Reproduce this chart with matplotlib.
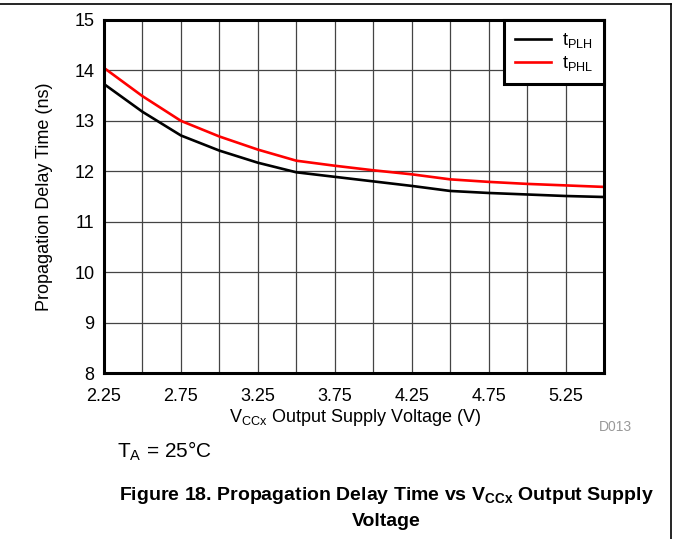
import matplotlib
matplotlib.use("Agg")
import matplotlib.pyplot as plt
from matplotlib.lines import Line2D
import numpy as np

plt.rcParams['font.family'] = ['Liberation Sans', 'DejaVu Sans']
plt.rcParams['mathtext.fontset'] = 'custom'
plt.rcParams['mathtext.rm'] = 'Liberation Sans'
plt.rcParams['mathtext.it'] = 'Liberation Sans:italic'
plt.rcParams['mathtext.bf'] = 'Liberation Sans:bold'

# Data
vcc = [2.25, 2.5, 2.75, 3.0, 3.25, 3.5, 3.75, 4.0, 4.25, 4.5, 4.75, 5.0, 5.25, 5.5]
t_plh = [13.73, 13.18, 12.71, 12.41, 12.17, 11.98, 11.89, 11.80, 11.71, 11.61, 11.57, 11.54, 11.51, 11.49]
t_phl = [14.05, 13.49, 13.00, 12.69, 12.43, 12.21, 12.11, 12.02, 11.94, 11.84, 11.79, 11.75, 11.72, 11.69]
xtick_labels = ['2.25', '2.75', '3.25', '3.75', '4.25', '4.75', '5.25']
xtick_vals = [2.25, 2.75, 3.25, 3.75, 4.25, 4.75, 5.25]
ytick_vals = [8, 9, 10, 11, 12, 13, 14, 15]

W, H = 677, 539
fig = plt.figure(figsize=(W / 100, H / 100), dpi=100)
ax = fig.add_axes([104 / W, 1 - 373 / H, 500 / W, 353 / H])

ax.plot(vcc, t_plh, color='black', lw=1.9, label=r't$_{\mathrm{PLH}}$', zorder=3)
ax.plot(vcc, t_phl, color='#ff0000', lw=1.9, label=r't$_{\mathrm{PHL}}$', zorder=3)

ax.set_xlim(2.25, 5.5)
ax.set_ylim(8, 15)
ax.set_xticks(xtick_vals)
ax.set_xticklabels(xtick_labels)
ax.set_xticks(np.arange(2.25, 5.51, 0.25), minor=True)
ax.set_yticks(ytick_vals)
ax.tick_params(axis='both', which='both', length=0, labelsize=13)
ax.tick_params(axis='x', pad=11)
ax.tick_params(axis='y', pad=7)
ax.grid(True, which='both', color='#444444', lw=0.9)
for s in ax.spines.values():
    s.set_linewidth(2.2)
    s.set_color('black')
    s.set_zorder(4)

leg = ax.legend(loc='upper right', borderaxespad=0, fancybox=False,
                edgecolor='black', framealpha=1, fontsize=13,
                handlelength=2.0, handletextpad=0.6, borderpad=0.6,
                labelspacing=0.25)
leg.get_frame().set_linewidth(2.2)
leg.set_zorder(5)

fig.text(355 / W, 1 - 417 / H, r'V$_{\mathrm{CCx}}$ Output Supply Voltage (V)',
         ha='center', va='center', fontsize=13)
fig.text(45 / W, 1 - 196.5 / H, 'Propagation Delay Time (ns)', rotation=90,
         ha='center', va='center', fontsize=13)
fig.text(632 / W, 1 - 427 / H, 'D013', ha='right', va='center',
         fontsize=10, color='#999999')
fig.text(117 / W, 1 - 451 / H, r'T$_{\mathrm{A}}$ = 25°C', ha='left', va='center',
         fontsize=15)
fig.text(386 / W, 1 - 496 / H,
         r'Figure 18. Propagation Delay Time vs V$_{\mathbf{CCx}}$ Output Supply',
         ha='center', va='center', fontsize=14, fontweight='bold')
fig.text(386 / W, 1 - 521 / H, 'Voltage', ha='center', va='center',
         fontsize=14, fontweight='bold')

fig.add_artist(Line2D([0, 671 / W], [1 - 4 / H, 1 - 4 / H], color='black',
                      lw=1.2, transform=fig.transFigure))
fig.add_artist(Line2D([671 / W, 671 / W], [1 - 4 / H, 0], color='black',
                      lw=1.2, transform=fig.transFigure))

fig.savefig('out.png', dpi=100)
